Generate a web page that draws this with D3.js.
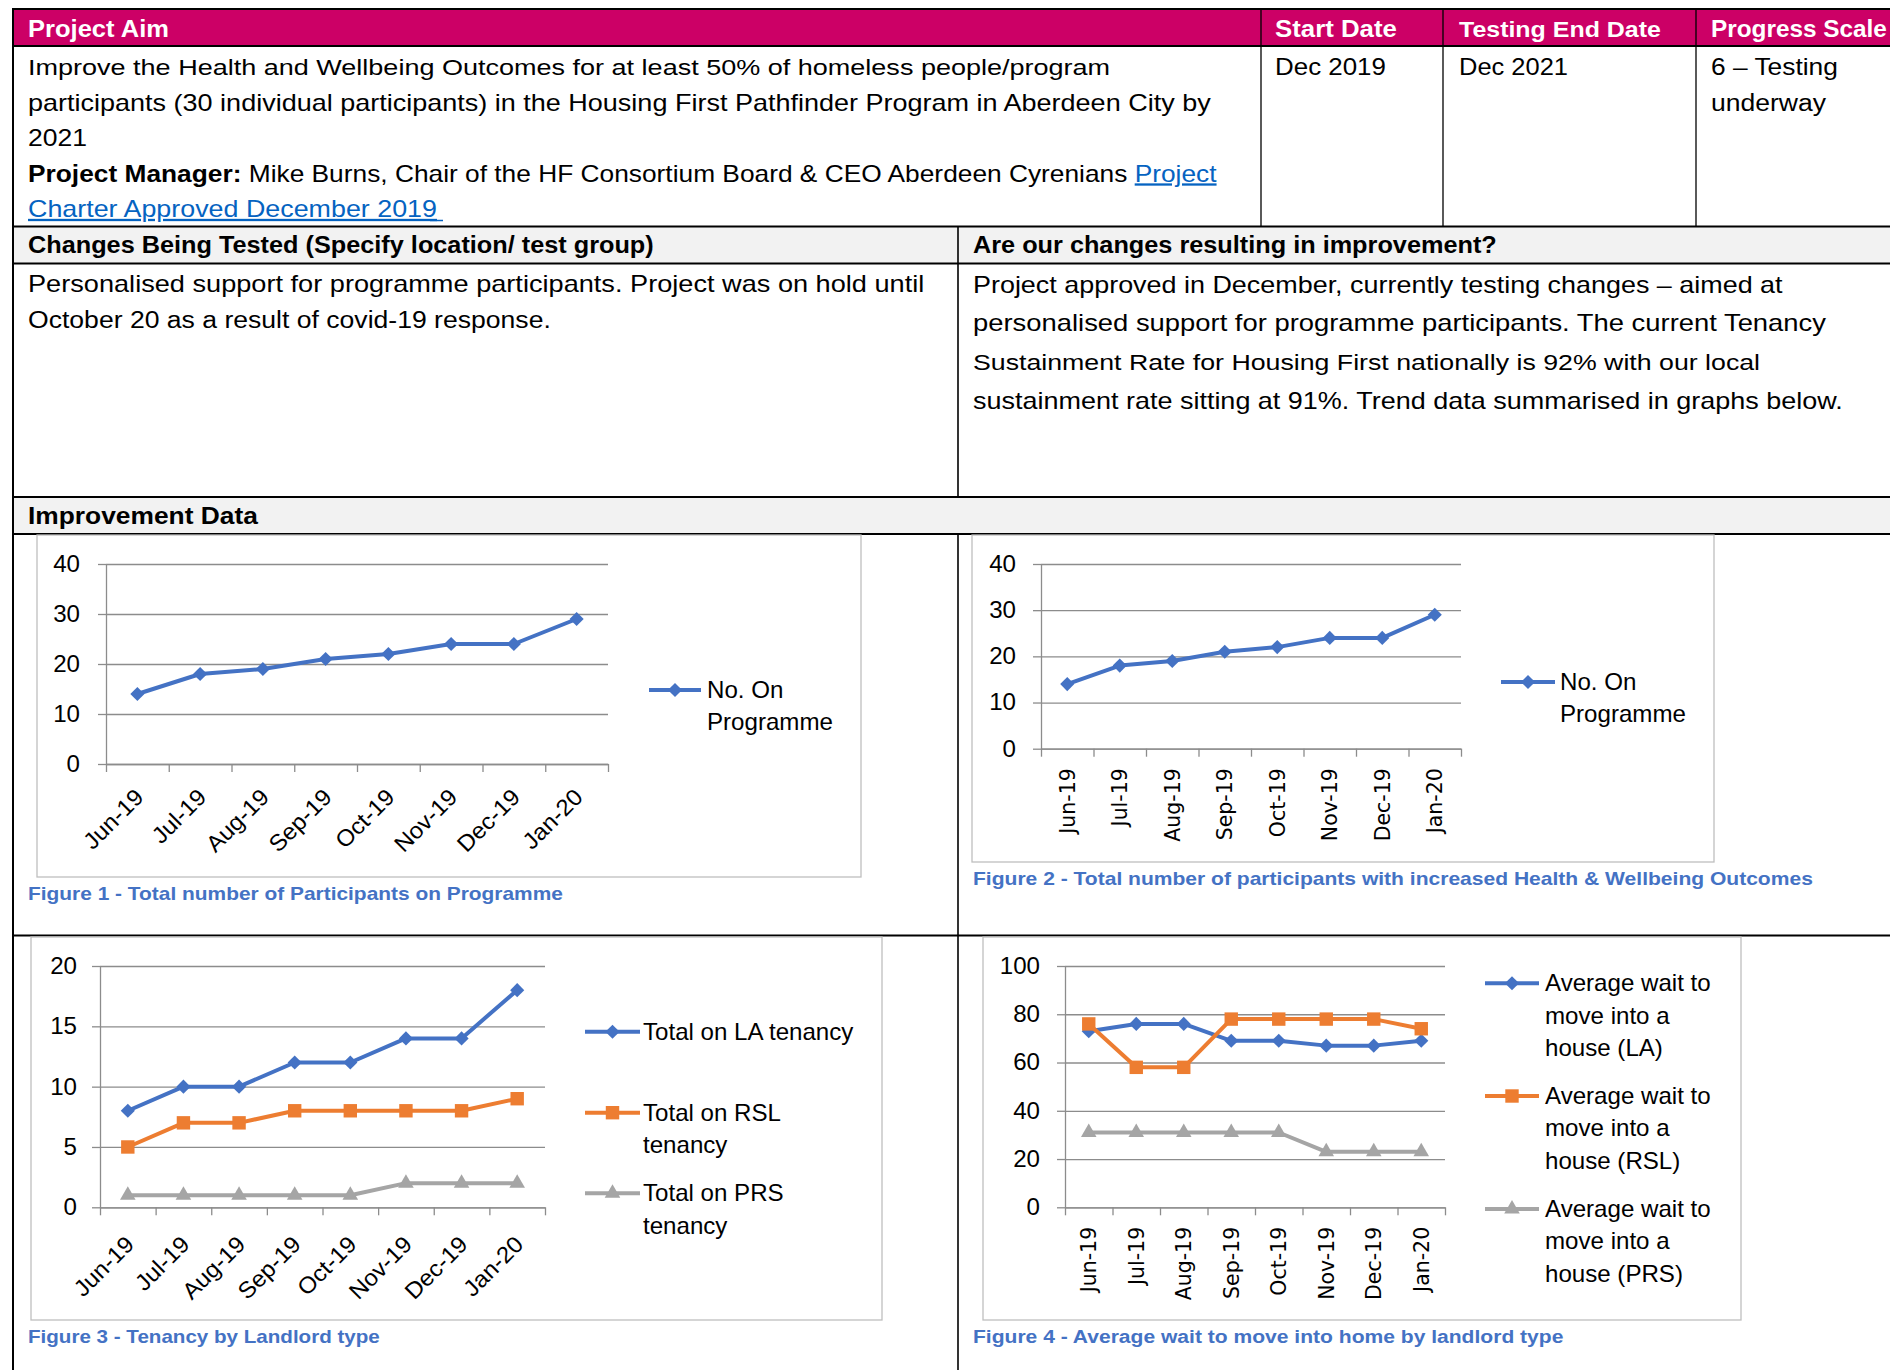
<!DOCTYPE html>
<html>
<head>
<meta charset="utf-8">
<title>Housing First Pathfinder - Improvement Data</title>
<script src="https://d3js.org/d3.v7.min.js"></script>
<style>
  body { margin: 0; background: #fff; }
  svg text { font-family: "Liberation Sans", Arial, sans-serif; }
</style>
</head>
<body>
<script>
//---------------------------- DATA ----------------------------//
const months = ["Jun-19", "Jul-19", "Aug-19", "Sep-19", "Oct-19", "Nov-19", "Dec-19", "Jan-20"];

const onProgramme    = [14, 18, 19, 21, 22, 24, 24, 29];
const healthOutcomes = [14, 18, 19, 21, 22, 24, 24, 29];

const laTenancy  = [8, 10, 10, 12, 12, 14, 14, 18];
const rslTenancy = [5, 7, 7, 8, 8, 8, 8, 9];
const prsTenancy = [1, 1, 1, 1, 1, 2, 2, 2];

const waitLA  = [73, 76, 76, 69, 69, 67, 67, 69];
const waitRSL = [76, 58, 58, 78, 78, 78, 78, 74];
const waitPRS = [31, 31, 31, 31, 31, 23, 23, 23];

const ticks40  = [0, 10, 20, 30, 40];
const ticks20  = [0, 5, 10, 15, 20];
const ticks100 = [0, 20, 40, 60, 80, 100];

const headers = ["Project Aim", "Start Date", "Testing End Date", "Progress Scale"];
const aimLines = [
  "Improve the Health and Wellbeing Outcomes for at least 50% of homeless people/program",
  "participants (30 individual participants) in the Housing First Pathfinder Program in Aberdeen City by",
  "2021"
];
const changesLines = [
  "Personalised support for programme participants. Project was on hold until",
  "October 20 as a result of covid-19 response."
];
const resultLines = [
  "Project approved in December, currently testing changes \u2013 aimed at",
  "personalised support for programme participants.  The current Tenancy",
  "Sustainment Rate for Housing First nationally is 92% with our local",
  "sustainment rate sitting at 91%. Trend data summarised in graphs below."
];

//---------------------------- SETUP ---------------------------//
const BLUE = "#4472C4", ORANGE = "#ED7D31", GREY = "#A5A5A5";
const GRID = "#8c8c8c", LW = 4;
const CHART_FS = 23;

const svg = d3.select("body").append("svg")
    .attr("width", 1890)
    .attr("height", 1370);

// text helper: optional fit to a measured width (w) or a fixed x-stretch (sx)
function txt(g, str, x, y, o = {}) {
  const t = g.append("text")
      .attr("font-size", o.size || 23)
      .attr("font-weight", o.bold ? 700 : 400)
      .attr("fill", o.fill || "#000")
      .attr("text-anchor", o.anchor || "start");
  if (Array.isArray(str)) {
    str.forEach(function(r) {
      const s = t.append("tspan").text(r.t);
      if (r.bold) s.attr("font-weight", 700);
      if (r.link) s.attr("fill", "#0563C1").attr("text-decoration", "underline");
    });
  } else {
    t.text(str);
  }
  if (o.link) t.attr("fill", "#0563C1").attr("text-decoration", "underline");
  const w = t.node().getComputedTextLength();
  const sx = o.w ? o.w / w : (o.sx || 1);
  t.attr("transform", "translate(" + x + "," + y + ") scale(" + sx + ",1)");
  return t;
}

// stretch factor for chart text, from the width of the legend word "Programme"
const probe = svg.append("text").attr("font-size", CHART_FS).text("Programme");
const SX = 126 / probe.node().getComputedTextLength();
probe.remove();

//---------------------------- TABLE ---------------------------//
const table = svg.append("g");
table.append("rect").attr("x", 13).attr("y", 9).attr("width", 1877).attr("height", 37).attr("fill", "#CC0066");
table.append("rect").attr("x", 13).attr("y", 226.5).attr("width", 1877).attr("height", 37).attr("fill", "#F2F2F2");
table.append("rect").attr("x", 13).attr("y", 497).attr("width", 1877).attr("height", 37).attr("fill", "#F2F2F2");

[[9, 12, 1890], [46, 12, 1890], [226.5, 12, 1890], [263.5, 12, 1890],
 [497, 12, 1890], [534, 12, 1890], [935.5, 12, 1890]].forEach(function(h) {
  table.append("line").attr("x1", h[1]).attr("x2", h[2]).attr("y1", h[0]).attr("y2", h[0])
      .attr("stroke", "#000").attr("stroke-width", 2);
});
[[13, 8, 1370, 2], [1261, 9, 226.5, 1.3], [1443, 9, 226.5, 1.3], [1696, 9, 226.5, 1.3],
 [958, 226.5, 497, 1.6], [958, 534, 1370, 1.6]].forEach(function(v) {
  table.append("line").attr("x1", v[0]).attr("x2", v[0]).attr("y1", v[1]).attr("y2", v[2])
      .attr("stroke", "#000").attr("stroke-width", v[3]);
});

// header row
txt(table, headers[0], 28, 36.5, {bold: true, fill: "#fff", w: 141});
txt(table, headers[1], 1275, 36.5, {bold: true, fill: "#fff", w: 122});
txt(table, headers[2], 1459, 36.5, {bold: true, fill: "#fff", w: 202});
txt(table, headers[3], 1711, 36.5, {bold: true, fill: "#fff", w: 176});

// aim cell
const aimW = [1083, 1183, 59];
aimLines.forEach(function(l, i) { txt(table, l, 28, 75 + i * 35.5, {w: aimW[i]}); });
txt(table, [
  {t: "Project Manager:", bold: true},
  {t: " Mike Burns, Chair of the HF Consortium Board & CEO Aberdeen Cyrenians "},
  {t: "Project", link: true}
], 28, 181.5, {w: 1189});
txt(table, "Charter Approved December 2019", 28, 217, {w: 409, link: true});
table.append("line").attr("x1", 430).attr("x2", 443).attr("y1", 220.5).attr("y2", 220.5)
    .attr("stroke", "#0563C1").attr("stroke-width", 1.5);

txt(table, "Dec 2019", 1275, 75, {w: 111});
txt(table, "Dec 2021", 1459, 75, {w: 109});
txt(table, "6 \u2013 Testing", 1711, 75, {w: 127});
txt(table, "underway", 1711, 110.5, {w: 115});

// second block
txt(table, "Changes Being Tested (Specify location/ test group)", 28, 253.3, {bold: true, w: 626});
txt(table, "Are our changes resulting in improvement?", 973, 253.3, {bold: true, w: 524});
const changesW = [896.5, 523];
changesLines.forEach(function(l, i) { txt(table, l, 28, 291.7 + i * 36, {w: changesW[i]}); });
const resultW = [810, 853.5, 787.5, 870];
resultLines.forEach(function(l, i) { txt(table, l, 973, 292.7 + i * 38.6, {w: resultW[i]}); });

txt(table, "Improvement Data", 28, 524, {bold: true, w: 230});

//---------------------------- CHARTS --------------------------//
const symbols = {
  diamond:  {type: d3.symbolSquare, size: 100, rot: 45},
  square:   {type: d3.symbolSquare, size: 180, rot: 0},
  triangle: {type: d3.symbolTriangle, size: 105, rot: 0}
};

function marker(g, kind, cx, cy, color) {
  const s = symbols[kind];
  g.append("path")
      .attr("d", d3.symbol(s.type, s.size)())
      .attr("transform", "translate(" + cx + "," + cy + ") rotate(" + s.rot + ")")
      .attr("fill", color);
}

function drawChart(c) {
  const g = svg.append("g");
  g.append("rect")
      .attr("x", c.frame[0]).attr("y", c.frame[1])
      .attr("width", c.frame[2] - c.frame[0]).attr("height", c.frame[3] - c.frame[1])
      .attr("fill", "#fff").attr("stroke", "#bfbfbf").attr("stroke-width", 1.3);

  const x = d3.scaleBand().domain(months).range([c.left, c.right]);
  const xb = d3.scaleLinear().domain([0, months.length]).range([c.left, c.right]);
  const y = d3.scaleLinear().domain([0, c.max]).range([c.bottom, c.top]);

  // horizontal gridlines
  const grid = g.append("g").attr("transform", "translate(" + c.left + ",0)")
      .call(d3.axisLeft(y).tickValues(c.ticks).tickSize(-(c.right - c.left)).tickFormat(""));
  grid.select(".domain").remove();
  grid.selectAll("line").attr("stroke", GRID).attr("stroke-width", 1.3);

  // y axis
  const ya = g.append("g").attr("transform", "translate(" + c.left + ",0)")
      .call(d3.axisLeft(y).tickValues(c.ticks).tickSize(8).tickSizeOuter(0).tickPadding(c.ypad));
  ya.select(".domain").attr("stroke", GRID).attr("stroke-width", 1.3);
  ya.selectAll("line").attr("stroke", GRID).attr("stroke-width", 1.3);
  ya.selectAll("text")
      .attr("font-size", CHART_FS).attr("fill", "#000")
      .each(function() {
        const t = d3.select(this), xx = +t.attr("x");
        t.attr("x", 0).attr("transform", "translate(" + xx + ",0) scale(" + SX + ",1)");
      });

  // x axis: tick marks on category boundaries
  const xa = g.append("g").attr("transform", "translate(0," + c.bottom + ")")
      .call(d3.axisBottom(xb).tickValues(d3.range(months.length + 1)).tickSize(8).tickSizeOuter(0).tickFormat(""));
  xa.select(".domain").attr("stroke", GRID).attr("stroke-width", 1.3);
  xa.selectAll("line").attr("stroke", GRID).attr("stroke-width", 1.3);

  // x labels at band centres
  const xl = g.append("g").attr("transform", "translate(0," + c.bottom + ")")
      .call(d3.axisBottom(x).tickSize(0).tickPadding(0));
  xl.select(".domain").remove();
  xl.selectAll(".tick text").each(function() {
    const t = d3.select(this).attr("fill", "#000").attr("text-anchor", "end").attr("y", 0);
    if (c.rot === -45) {
      t.attr("font-size", CHART_FS).attr("dy", "0.71em")
       .attr("transform", "translate(-4," + c.lab + ") rotate(-45) scale(" + SX + ",1)");
    } else {
      t.attr("font-size", 20.5).attr("dy", "0.36em")
       .style("font-family", "'DejaVu Sans', Verdana, sans-serif")
       .attr("transform", "translate(0," + c.lab + ") rotate(-90)");
    }
  });

  // series
  const line = d3.line()
      .x(function(d, i) { return x(months[i]) + x.bandwidth() / 2; })
      .y(function(d) { return y(d); });
  c.series.forEach(function(s) {
    g.append("path").attr("d", line(s.values))
        .attr("fill", "none").attr("stroke", s.color).attr("stroke-width", LW)
        .attr("stroke-linejoin", "round");
    s.values.forEach(function(v, i) {
      marker(g, s.symbol, x(months[i]) + x.bandwidth() / 2, y(v), s.color);
    });
  });

  // legend
  c.series.forEach(function(s, i) {
    const ly = c.legend.ys[i];
    g.append("line").attr("x1", c.legend.x0).attr("x2", c.legend.x1).attr("y1", ly).attr("y2", ly)
        .attr("stroke", s.color).attr("stroke-width", LW);
    marker(g, s.symbol, (c.legend.x0 + c.legend.x1) / 2, ly, s.color);
    s.label.forEach(function(l, j) {
      txt(g, l, c.legend.xt, ly + 7.8 + j * 32.5, {size: CHART_FS, sx: SX});
    });
  });

  txt(g, c.caption, c.cap[0], c.cap[1], {bold: true, size: 18, fill: BLUE, w: c.cap[2]});
}

drawChart({
  frame: [37, 535, 861, 877], left: 106, right: 608, top: 564, bottom: 764,
  max: 40, ticks: ticks40, ypad: 18, rot: -45, lab: 23,
  series: [{values: onProgramme, color: BLUE, symbol: "diamond", label: ["No. On", "Programme"]}],
  legend: {x0: 649, x1: 701, xt: 707, ys: [690]},
  caption: "Figure 1 - Total number of Participants on Programme", cap: [28, 900, 535]
});

drawChart({
  frame: [972, 535, 1714, 862], left: 1041, right: 1461, top: 564, bottom: 748.7,
  max: 40, ticks: ticks40, ypad: 17, rot: -90, lab: 19.5,
  series: [{values: healthOutcomes, color: BLUE, symbol: "diamond", label: ["No. On", "Programme"]}],
  legend: {x0: 1501, x1: 1555, xt: 1560, ys: [682]},
  caption: "Figure 2 - Total number of participants with increased Health & Wellbeing Outcomes", cap: [973, 885, 840]
});

drawChart({
  frame: [31, 937, 882, 1320], left: 100, right: 545, top: 966, bottom: 1207.3,
  max: 20, ticks: ticks20, ypad: 15, rot: -45, lab: 27,
  series: [
    {values: laTenancy, color: BLUE, symbol: "diamond", label: ["Total on LA tenancy"]},
    {values: rslTenancy, color: ORANGE, symbol: "square", label: ["Total on RSL", "tenancy"]},
    {values: prsTenancy, color: GREY, symbol: "triangle", label: ["Total on PRS", "tenancy"]}
  ],
  legend: {x0: 585, x1: 640, xt: 643, ys: [1031.7, 1112.7, 1193.3]},
  caption: "Figure 3 - Tenancy by Landlord type", cap: [28, 1343, 352]
});

drawChart({
  frame: [983, 937, 1741, 1320], left: 1065, right: 1445, top: 966, bottom: 1207.3,
  max: 100, ticks: ticks100, ypad: 17, rot: -90, lab: 19.5,
  series: [
    {values: waitLA, color: BLUE, symbol: "diamond", label: ["Average wait to", "move into a", "house (LA)"]},
    {values: waitRSL, color: ORANGE, symbol: "square", label: ["Average wait to", "move into a", "house (RSL)"]},
    {values: waitPRS, color: GREY, symbol: "triangle", label: ["Average wait to", "move into a", "house (PRS)"]}
  ],
  legend: {x0: 1485, x1: 1539, xt: 1545, ys: [983.3, 1096, 1209]},
  caption: "Figure 4 - Average wait to move into home by landlord type", cap: [973, 1343, 591]
});
</script>
</body>
</html>
